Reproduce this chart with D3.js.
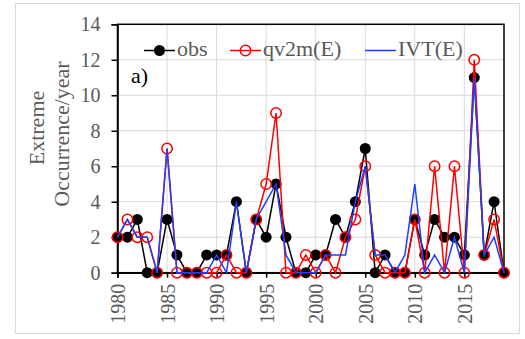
<!DOCTYPE html>
<html>
<head>
<meta charset="utf-8">
<script src="https://cdn.jsdelivr.net/npm/d3@7"></script>
<style>
  body { margin: 0; background: #fff; }
  svg text { font-family: "Liberation Serif", "Times New Roman", serif; }
</style>
</head>
<body>
<div class="chart"></div>
<script>
// data, one value per year
var years = d3.range(1980, 2020);
var obs  = [2,2,3,0,0,3,1,0,0,1, 1,1,4,0,3,2,5,2,0,0, 1,1,3,2,4,7,0,1,0,0, 3,1,3,2,2,1,11,1,4,0];
var qv2m = [2,3,2,2,0,7,0,0,0,0, 0,1,0,0,3,5,9,0,0,1, 0,1,0,2,3,6,1,0,0,0, 3,0,6,0,6,0,12,1,3,0];
var ivt  = [2,3,2,2,0,7,0,0,0,0, 1,0,4,0,3,4,5,1,0,0, 0,1,1,1,4,6,1,1,0,1, 5,0,1,0,2,0,11,1,2,0];
var xTicks = [1980,1985,1990,1995,2000,2005,2010,2015];
var yTicks = [0,2,4,6,8,10,12,14];

var svgWidth = 525, svgHeight = 339;
var margin = { top: 24.3, right: 21, bottom: 66.3, left: 117.5 };
var width = svgWidth - margin.left - margin.right;
var height = svgHeight - margin.top - margin.bottom;
var serif = "'Liberation Serif', 'Times New Roman', serif";

var svg = d3.select(".chart").append("svg")
  .attr("width", svgWidth)
  .attr("height", svgHeight)
  .attr("font-family", serif);

// outer frame
svg.append("rect")
  .attr("x", 15.5).attr("y", 3.5)
  .attr("width", 504).attr("height", 330)
  .attr("fill", "#fff")
  .attr("stroke", "#d9d9d9");

var g = svg.append("g")
  .attr("transform", `translate(${margin.left}, ${margin.top})`);

var x = d3.scaleLinear().domain([1980, 2019]).range([0, width]);
var y = d3.scaleLinear().domain([0, 14]).range([height, 0]);

// gridlines
g.append("g").selectAll("line")
  .data(xTicks.slice(1))
  .enter().append("line")
  .attr("x1", d => x(d)).attr("x2", d => x(d))
  .attr("y1", 0).attr("y2", height)
  .attr("stroke", "#d9d9d9");
g.append("g").selectAll("line")
  .data(yTicks.slice(1, -1))
  .enter().append("line")
  .attr("x1", 0).attr("x2", width)
  .attr("y1", d => y(d)).attr("y2", d => y(d))
  .attr("stroke", "#d9d9d9");

// plot border
g.append("rect")
  .attr("width", width).attr("height", height)
  .attr("fill", "none").attr("stroke", "#000").attr("stroke-width", 1.5);

// axes
var bottomAxis = d3.axisBottom(x).tickValues(xTicks).tickSize(5).tickFormat(d3.format("d"));
var leftAxis = d3.axisLeft(y).tickValues(yTicks).tickSize(6);

var xg = g.append("g")
  .attr("transform", `translate(0, ${height})`)
  .call(bottomAxis)
  .attr("font-family", serif);
xg.selectAll("text")
  .attr("transform", "rotate(-90)")
  .attr("x", -11).attr("y", 0).attr("dy", "0.35em")
  .style("text-anchor", "end");

var yg = g.append("g").call(leftAxis).attr("font-family", serif);
yg.selectAll("text").attr("x", -17);

g.selectAll(".domain").attr("stroke", "#000").attr("stroke-width", 1.5);
g.selectAll(".tick line").attr("stroke", "#000").attr("stroke-width", 1.5);
g.selectAll(".tick text")
  .attr("fill", "#595959")
  .style("font-size", "20px");

// y title
svg.append("text")
  .attr("transform", "translate(36, 128) rotate(-90)")
  .attr("text-anchor", "middle")
  .attr("dy", "0.35em")
  .attr("fill", "#595959")
  .style("font-size", "22px")
  .text("Extreme");
svg.append("text")
  .attr("transform", "translate(61, 134) rotate(-90)")
  .attr("text-anchor", "middle")
  .attr("dy", "0.35em")
  .attr("fill", "#595959")
  .style("font-size", "22px")
  .text("Occurrence/year");

// series
var line = d3.line().x((d, i) => x(years[i])).y(d => y(d));

g.append("path").datum(obs)
  .attr("d", line).attr("fill", "none")
  .attr("stroke", "#000").attr("stroke-width", 1.5);
g.selectAll("circle.obs").data(obs).enter().append("circle")
  .attr("class", "obs")
  .attr("cx", (d, i) => x(years[i])).attr("cy", d => y(d))
  .attr("r", 5.5).attr("fill", "#000");

g.append("path").datum(qv2m)
  .attr("d", line).attr("fill", "none")
  .attr("stroke", "#ff0000").attr("stroke-width", 1.5);
g.selectAll("circle.qv").data(qv2m).enter().append("circle")
  .attr("class", "qv")
  .attr("cx", (d, i) => x(years[i])).attr("cy", d => y(d))
  .attr("r", 5.2).attr("fill", "none")
  .attr("stroke", "#ff0000").attr("stroke-width", 1.5);

g.append("path").datum(ivt)
  .attr("d", line).attr("fill", "none")
  .attr("stroke", "#1f3fff").attr("stroke-width", 1.5);

// legend
var legend = svg.append("g").attr("transform", "translate(0, 50.5)");
var items = [
  { name: "obs", color: "#000", x: 144, marker: "filled" },
  { name: "qv2m(E)", color: "#ff0000", x: 230, marker: "open" },
  { name: "IVT(E)", color: "#1f3fff", x: 365, marker: "none" }
];
items.forEach(function(it) {
  legend.append("line")
    .attr("x1", it.x).attr("x2", it.x + 31)
    .attr("stroke", it.color).attr("stroke-width", 1.5);
  if (it.marker === "filled") {
    legend.append("circle").attr("cx", it.x + 15.5).attr("r", 5.5).attr("fill", it.color);
  } else if (it.marker === "open") {
    legend.append("circle").attr("cx", it.x + 15.5).attr("r", 5.2)
      .attr("fill", "none").attr("stroke", it.color).attr("stroke-width", 1.5);
  }
  legend.append("text")
    .attr("x", it.x + 33).attr("y", 5.3)
    .attr("fill", "#595959")
    .style("font-size", "22px")
    .text(it.name);
});

svg.append("text")
  .attr("x", 131).attr("y", 83)
  .attr("fill", "#000")
  .style("font-size", "22px")
  .text("a)");
</script>
</body>
</html>
